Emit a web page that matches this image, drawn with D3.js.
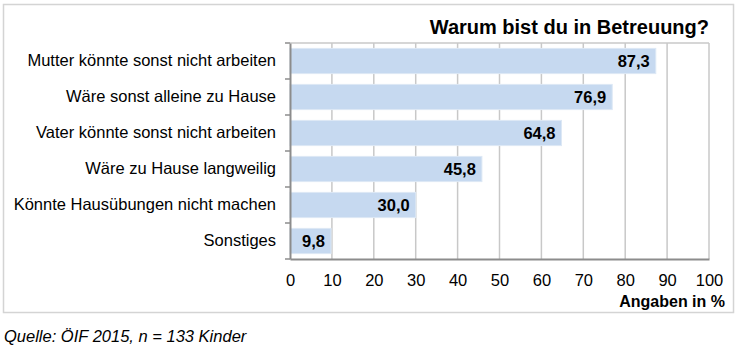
<!DOCTYPE html>
<html>
<head>
<meta charset="utf-8">
<script src="https://cdn.jsdelivr.net/npm/d3@7"></script>
<style>
  body { margin: 0; background: #fff; }
  text { font-family: "Liberation Sans", Arial, sans-serif; }
</style>
</head>
<body>
<div id="chart"></div>
<script>
// chart data
const categories = [
  "Mutter könnte sonst nicht arbeiten",
  "Wäre sonst alleine zu Hause",
  "Vater könnte sonst nicht arbeiten",
  "Wäre zu Hause langweilig",
  "Könnte Hausübungen nicht machen",
  "Sonstiges"
];
const values = [87.3, 76.9, 64.8, 45.8, 30.0, 9.8];
const xTicks = [0, 10, 20, 30, 40, 50, 60, 70, 80, 90, 100];

(() => {
  const W = 738, H = 350;
  const margin = { top: 43, left: 290, right: 29, bottom: 91 };
  const width = W - margin.left - margin.right,
    height = H - margin.top - margin.bottom;

  const svg = d3.select('#chart').append('svg')
    .attr('width', W).attr('height', H);

  // outer frame
  svg.append('rect')
    .attr('x', 3.5).attr('y', 4.5)
    .attr('width', 730).attr('height', 308)
    .attr('fill', 'none').attr('stroke', '#d4d4d4').attr('stroke-width', 1.5);

  const g = svg.append('g')
    .attr('transform', 'translate(' + margin.left + ',' + margin.top + ')');

  const x = d3.scaleLinear().domain([0, 100]).range([0, width]);
  const y = d3.scaleBand().domain(categories).range([0, height]).paddingInner(0.3).paddingOuter(0.15);

  // gridlines
  g.selectAll('.grid')
    .data(xTicks.slice(1))
    .enter().append('line')
    .attr('x1', d => x(d)).attr('x2', d => x(d))
    .attr('y1', 0).attr('y2', height)
    .attr('stroke', '#c8c8c8').attr('stroke-width', 1.5);
  g.append('line')
    .attr('x1', 0).attr('x2', width).attr('y1', 0).attr('y2', 0)
    .attr('stroke', '#c8c8c8').attr('stroke-width', 1.5);

  // bars
  g.selectAll('.bar')
    .data(values)
    .enter().append('rect')
    .attr('x', 0)
    .attr('y', (d, i) => y(categories[i]))
    .attr('width', d => x(d))
    .attr('height', y.bandwidth())
    .attr('fill', '#c6d9f0')
    .attr('stroke', '#dde8f5').attr('stroke-width', 1);

  // value labels
  g.selectAll('.val')
    .data(values)
    .enter().append('text')
    .attr('x', d => x(d) - 6)
    .attr('y', (d, i) => y(categories[i]) + y.bandwidth() / 2)
    .attr('dy', '0.36em')
    .attr('text-anchor', 'end')
    .attr('font-size', 16.5).attr('font-weight', 'bold')
    .text(d => d3.format('.1f')(d).replace('.', ','));

  // x axis
  const xAxis = g.append('g')
    .attr('transform', 'translate(0,' + height + ')')
    .call(d3.axisBottom(x).tickValues(xTicks).tickSize(0).tickPadding(15));
  xAxis.select('.domain').attr('stroke', '#8c8c8c').attr('stroke-width', 2);
  xAxis.selectAll('text')
    .attr('font-size', 16.5).attr('fill', '#000')
    .style('font-family', '"Liberation Sans", Arial, sans-serif');

  // y axis
  const yAxis = g.append('g')
    .call(d3.axisLeft(y).tickSize(0).tickPadding(14));
  yAxis.select('.domain').attr('stroke', '#8c8c8c').attr('stroke-width', 2);
  yAxis.selectAll('text')
    .attr('font-size', 16.5).attr('fill', '#000')
    .style('font-family', '"Liberation Sans", Arial, sans-serif');

  // small ticks between categories
  g.selectAll('.ytick')
    .data(d3.range(categories.length + 1))
    .enter().append('line')
    .attr('x1', -5).attr('x2', 0)
    .attr('y1', i => i * height / categories.length)
    .attr('y2', i => i * height / categories.length)
    .attr('stroke', '#8c8c8c').attr('stroke-width', 1.5);

  // title
  svg.append('text')
    .attr('x', margin.left + width).attr('y', 34)
    .attr('text-anchor', 'end')
    .attr('font-size', 20).attr('font-weight', 'bold')
    .text('Warum bist du in Betreuung?');

  // axis title
  svg.append('text')
    .attr('x', 725).attr('y', 307)
    .attr('text-anchor', 'end')
    .attr('font-size', 16).attr('font-weight', 'bold')
    .text('Angaben in %');

  // source
  svg.append('text')
    .attr('x', 4).attr('y', 342)
    .attr('font-size', 16.5).attr('font-style', 'italic')
    .text('Quelle: ÖIF 2015, n = 133 Kinder');
})();
</script>
</body>
</html>
